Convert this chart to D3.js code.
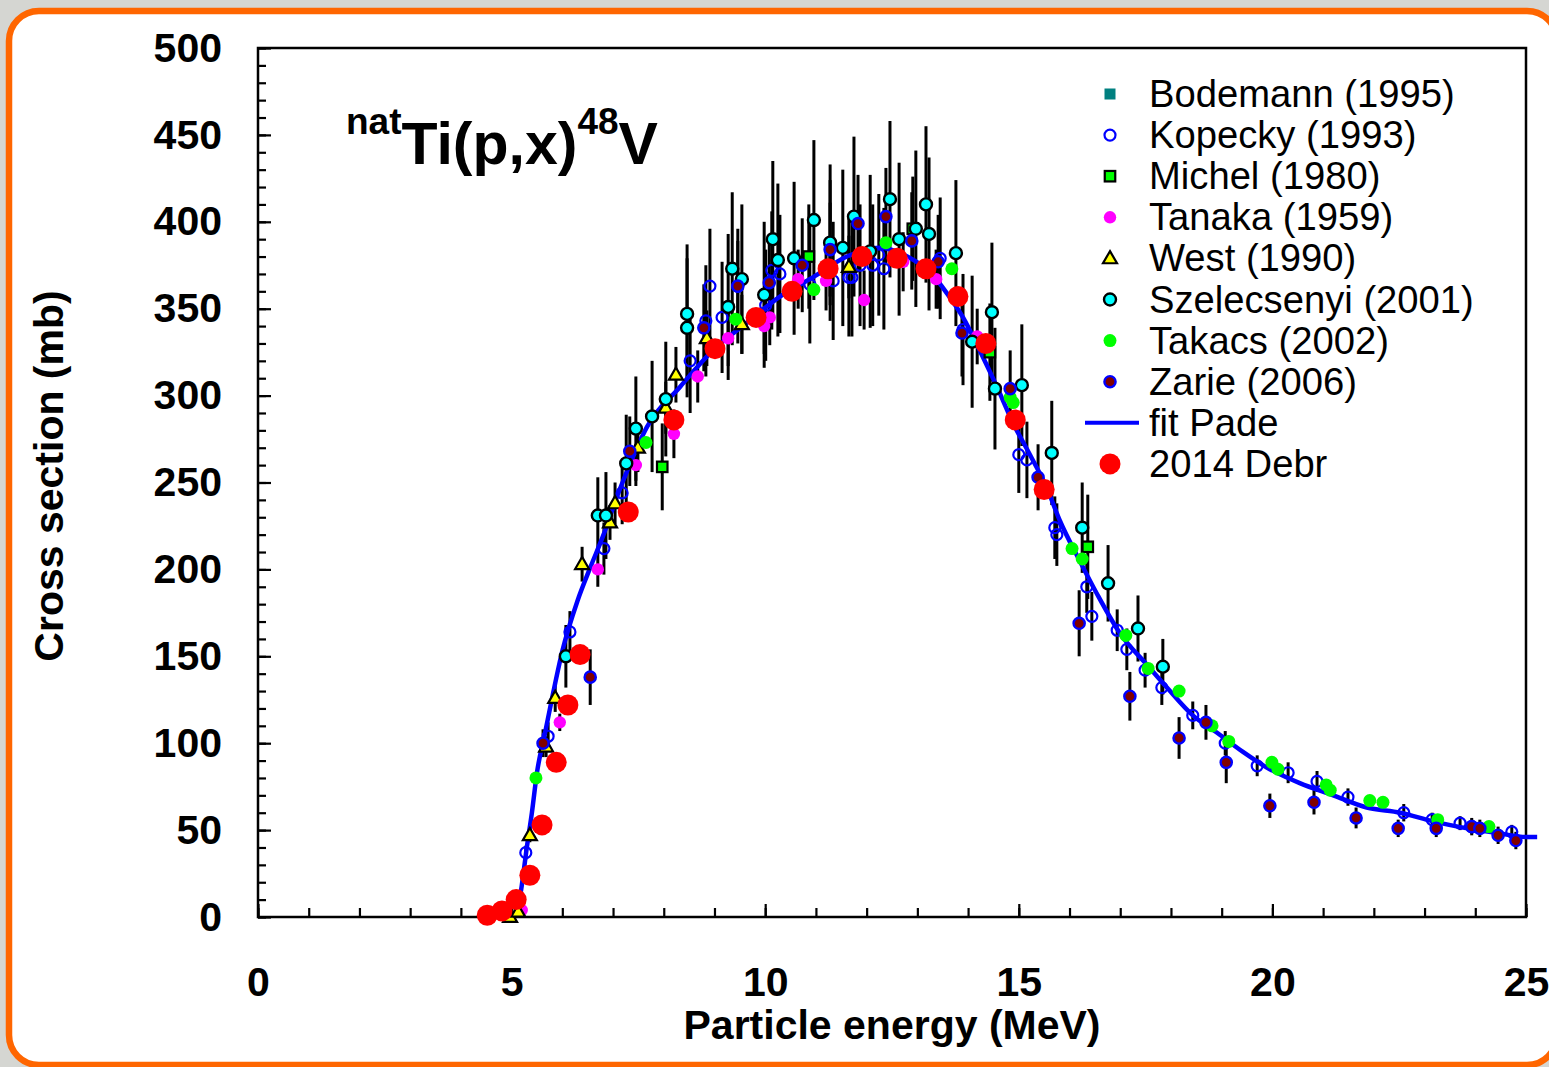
<!DOCTYPE html>
<html lang="en">
<head>
<meta charset="UTF-8">
<title>natTi(p,x)48V cross section</title>
<script src="https://d3js.org/d3.v7.min.js"></script>
<style>
  body { margin: 0; background: #d5d6d2; }
  svg { display: block; font-family: "Liberation Sans", Arial, sans-serif; }
</style>
</head>
<body>
<div id="chart"></div>
<script>
// tick values
const energyTicks = [0, 5, 10, 15, 20, 25];
const sigmaTicks = [0, 50, 100, 150, 200, 250, 300, 350, 400, 450, 500];

// each point: [energy MeV, cross section mb, error mb]
const bodemann = [];

const kopecky = [
  [5.28, 37, 4], [5.72, 104, 8], [6.15, 164, 12], [6.82, 212, 15], [7.18, 244, 18],
  [8.52, 320, 30], [8.83, 343, 32], [8.91, 363, 33], [9.15, 345, 32], [9.46, 363, 33],
  [10.01, 352, 32], [10.13, 372, 34], [10.29, 370, 34], [10.88, 364, 34], [11.28, 388, 36],
  [11.34, 366, 34], [11.65, 368, 34], [11.71, 368, 34], [11.87, 375, 35], [12.12, 375, 35],
  [12.24, 381, 35], [12.34, 373, 35], [13.45, 379, 35], [13.9, 338, 32], [15.0, 266, 22],
  [15.16, 263, 22], [15.71, 224, 18], [15.75, 220, 18], [16.34, 190, 15], [16.44, 173, 14],
  [16.94, 165, 12], [17.13, 154, 12], [17.49, 142, 10], [17.82, 132, 10], [18.43, 116, 8],
  [19.07, 100, 7], [19.7, 87, 6], [20.31, 83, 6], [20.88, 78, 6], [21.49, 69, 5],
  [22.59, 60, 5], [23.15, 56, 4], [23.7, 54, 4], [23.93, 52, 4], [24.72, 49, 4]
];

const michel = [
  [7.97, 259, 25], [10.86, 380, 30], [12.91, 396, 30], [14.43, 325, 28], [16.36, 213, 30]
];

const tanaka = [
  [5.2, 4, 0], [5.95, 112, 5], [6.7, 200, 10], [7.45, 260, 12], [8.2, 278, 14],
  [8.67, 311, 15], [9.27, 333, 16], [9.98, 340, 16], [10.09, 345, 16], [10.65, 367, 17],
  [11.2, 366, 17], [11.95, 355, 17], [12.72, 377, 17], [13.37, 367, 17], [14.18, 334, 16]
];

const west = [
  [4.97, 0, 0], [5.13, 3, 2], [5.36, 47, 4], [5.68, 98, 6], [5.86, 126, 8],
  [6.39, 203, 10], [6.94, 227, 10], [7.04, 238, 12], [7.49, 270, 14], [8.04, 293, 15],
  [8.24, 312, 16], [8.85, 333, 16], [9.54, 341, 17], [11.65, 374, 18]
];

const szelecsenyi = [
  [6.07, 150, 18], [6.7, 231, 22], [6.86, 231, 25], [7.26, 261, 28], [7.45, 281, 30],
  [7.77, 288, 32], [8.04, 298, 33], [8.46, 347, 40], [8.46, 339, 40], [9.27, 351, 42],
  [9.35, 373, 44], [9.54, 367, 43], [9.98, 358, 42], [10.15, 390, 45], [10.25, 378, 44],
  [10.57, 379, 44], [10.96, 401, 46], [11.28, 388, 45], [11.53, 385, 45], [11.75, 403, 46],
  [12.07, 383, 44], [12.46, 413, 45], [12.64, 390, 44], [12.97, 396, 45], [13.17, 410, 45],
  [13.23, 393, 44], [13.76, 382, 42], [14.08, 331, 38], [14.47, 348, 40], [14.53, 304, 35],
  [15.06, 306, 35], [15.65, 267, 30], [16.25, 224, 26], [16.76, 192, 22], [17.35, 166, 19],
  [17.84, 144, 16]
];

const takacs = [
  [5.48, 80, 0], [7.65, 273, 0], [9.42, 344, 0], [10.96, 361, 0], [12.38, 388, 0],
  [13.68, 373, 0], [14.83, 299, 0], [14.89, 296, 0], [16.05, 212, 0], [16.25, 206, 0],
  [17.11, 162, 0], [17.55, 143, 0], [18.16, 130, 0], [18.81, 110, 0], [19.14, 101, 0],
  [19.99, 89, 0], [20.11, 85, 0], [21.06, 76, 0], [21.14, 73, 0], [21.92, 67, 0],
  [22.18, 66, 0], [23.26, 56, 0], [24.27, 52, 0]
];

const zarie = [
  [5.62, 100, 8], [6.55, 138, 16], [7.33, 268, 20], [8.79, 339, 25], [9.46, 363, 26],
  [10.08, 365, 26], [10.73, 375, 27], [11.28, 384, 27], [11.83, 399, 28], [12.38, 403, 28],
  [12.89, 389, 28], [13.41, 377, 27], [13.88, 336, 25], [14.83, 304, 22], [15.38, 253, 19],
  [16.19, 169, 19], [17.19, 127, 14], [18.16, 103, 12], [18.69, 112, 10], [19.09, 89, 12],
  [19.95, 64, 7], [20.82, 66, 7], [21.65, 57, 6], [22.48, 51, 5], [23.23, 51, 5],
  [23.93, 52, 5], [24.09, 51, 5], [24.45, 47, 5], [24.8, 44, 5]
];

const debr2014 = [
  [4.52, 1], [4.81, 3.5], [5.09, 10], [5.36, 24], [5.6, 53], [5.88, 89], [6.11, 122],
  [6.35, 151], [7.3, 233], [8.2, 286], [9.01, 327], [9.82, 345], [10.53, 360], [11.24, 373],
  [11.91, 380], [12.6, 379], [13.17, 373], [13.8, 357], [14.35, 330], [14.93, 286], [15.5, 246]
];

// Pade fit curve
const fitPade = [
  [5.1, 0], [5.2, 18], [5.3, 40], [5.4, 60], [5.5, 83], [5.66, 106], [5.82, 129], [6.0, 153],
  [6.3, 182], [6.55, 201], [6.8, 219], [7.08, 242], [7.2, 251], [7.67, 282], [8.32, 305],
  [8.97, 326], [9.64, 342], [10.29, 357], [10.94, 368], [11.61, 380], [12.26, 385], [12.8, 380],
  [13.25, 371], [13.58, 359], [13.9, 345], [14.23, 326], [14.57, 305], [14.89, 284], [15.22, 266],
  [15.55, 247], [15.81, 228], [16.2, 205], [16.54, 186], [17.0, 163], [17.53, 145], [17.92, 132],
  [18.43, 116], [18.91, 106], [19.42, 95], [19.89, 86], [20.54, 77], [21.2, 70], [21.86, 63],
  [22.52, 60], [23.17, 55], [23.84, 51], [24.49, 48], [25.02, 46], [25.22, 46]
];

const W = 1549, H = 1067;
const plot = { left: 258, right: 1526, top: 48, bottom: 917 };

const svg = d3.select("#chart").append("svg")
  .attr("width", W).attr("height", H);

// slide background with orange rounded frame
svg.append("rect").attr("width", W).attr("height", H).attr("fill", "#d5d6d2");
svg.append("rect")
  .attr("x", 9).attr("y", 11).attr("width", 1548).attr("height", 1054)
  .attr("rx", 30).attr("ry", 30)
  .attr("fill", "#fff").attr("stroke", "#ff6600").attr("stroke-width", 6.5);

const x = d3.scaleLinear().domain([0, 25]).range([plot.left, plot.right]);
const y = d3.scaleLinear().domain([0, 500]).range([plot.bottom, plot.top]);

// minor ticks
svg.append("g")
  .attr("transform", `translate(${plot.left},0)`)
  .call(d3.axisLeft(y).tickValues(d3.range(0, 501, 10)).tickSize(-8).tickFormat(""))
  .call(g => g.select(".domain").remove())
  .selectAll("line").attr("stroke", "#000").attr("stroke-width", 2.2);
svg.append("g")
  .attr("transform", `translate(0,${plot.bottom})`)
  .call(d3.axisBottom(x).tickValues(d3.range(0, 26, 1)).tickSize(-9).tickFormat(""))
  .call(g => g.select(".domain").remove())
  .selectAll("line").attr("stroke", "#000").attr("stroke-width", 2.2);

// major ticks + labels
const yAxis = svg.append("g")
  .attr("transform", `translate(${plot.left},0)`)
  .call(d3.axisLeft(y).tickValues(sigmaTicks).tickSize(-13).tickPadding(36));
yAxis.select(".domain").remove();
yAxis.selectAll("line").attr("stroke", "#000").attr("stroke-width", 2.2);
yAxis.selectAll("text")
  .attr("fill", "#000").style("font-size", "41px").style("font-weight", "bold")
  .style("font-family", "'Liberation Sans', Arial, sans-serif");

const xAxis = svg.append("g")
  .attr("transform", `translate(0,${plot.bottom})`)
  .call(d3.axisBottom(x).tickValues(energyTicks).tickSize(-13).tickPadding(50));
xAxis.select(".domain").remove();
xAxis.selectAll("line").attr("stroke", "#000").attr("stroke-width", 2.2);
xAxis.selectAll("text")
  .attr("fill", "#000").style("font-size", "41px").style("font-weight", "bold")
  .style("font-family", "'Liberation Sans', Arial, sans-serif");

// plot frame
svg.append("rect")
  .attr("x", plot.left).attr("y", plot.top)
  .attr("width", plot.right - plot.left).attr("height", plot.bottom - plot.top)
  .attr("fill", "none").attr("stroke", "#000").attr("stroke-width", 2.5);

// axis titles
svg.append("text")
  .attr("x", (plot.left + plot.right) / 2).attr("y", 1039)
  .attr("text-anchor", "middle")
  .style("font-size", "41px").style("font-weight", "bold")
  .text("Particle energy (MeV)");
svg.append("text")
  .attr("transform", "translate(63,476) rotate(-90)")
  .attr("text-anchor", "middle")
  .style("font-size", "41px").style("font-weight", "bold")
  .text("Cross section (mb)");

// reaction label
const title = svg.append("text").attr("x", 346).attr("y", 164)
  .style("font-weight", "bold").style("font-size", "59px");
title.append("tspan").attr("dy", -30).style("font-size", "37px").text("nat");
title.append("tspan").attr("dy", 30).text("Ti(p,x)");
title.append("tspan").attr("dy", -30).style("font-size", "37px").text("48");
title.append("tspan").attr("dy", 30).text("V");

// error bars
const allErr = [kopecky, michel, tanaka, west, szelecsenyi, takacs, zarie]
  .flat().filter(d => d[2] > 0);
svg.append("g").selectAll("line").data(allErr).join("line")
  .attr("x1", d => x(d[0])).attr("x2", d => x(d[0]))
  .attr("y1", d => y(d[1] - d[2])).attr("y2", d => y(d[1] + d[2]))
  .attr("stroke", "#000").attr("stroke-width", 3);

// fit line
const line = d3.line().x(d => x(d[0])).y(d => y(d[1])).curve(d3.curveMonotoneX);
svg.append("path").datum(fitPade)
  .attr("d", line).attr("fill", "none")
  .attr("stroke", "#0000ff").attr("stroke-width", 4.5);

// symbol drawing helpers
const styles = {
  bodemann: { shape: "square", size: 11, fill: "#008080", stroke: "none", sw: 0 },
  kopecky: { shape: "circle", r: 5.5, fill: "none", stroke: "#0000ff", sw: 2.2 },
  michel: { shape: "square", size: 10.5, fill: "#00ff00", stroke: "#000", sw: 2.2 },
  tanaka: { shape: "circle", r: 6.2, fill: "#ff00ff", stroke: "none", sw: 0 },
  west: { shape: "triangle", size: 14, fill: "#ffff00", stroke: "#000", sw: 2.2 },
  szelecsenyi: { shape: "circle", r: 6, fill: "#00ffff", stroke: "#000", sw: 2.4 },
  takacs: { shape: "circle", r: 6.5, fill: "#00ff00", stroke: "none", sw: 0 },
  zarie: { shape: "circle", r: 5.6, fill: "#800000", stroke: "#0000ff", sw: 2.4 },
  debr: { shape: "circle", r: 10.5, fill: "#ff0000", stroke: "none", sw: 0 }
};

function drawMarks(g, data, st) {
  let sel;
  if (st.shape === "circle") {
    sel = g.selectAll("circle").data(data).join("circle")
      .attr("cx", d => d.px).attr("cy", d => d.py).attr("r", st.r);
  } else if (st.shape === "square") {
    sel = g.selectAll("rect").data(data).join("rect")
      .attr("x", d => d.px - st.size / 2).attr("y", d => d.py - st.size / 2)
      .attr("width", st.size).attr("height", st.size);
  } else {
    const s = st.size, h = s * 0.87;
    sel = g.selectAll("path").data(data).join("path")
      .attr("d", d => `M${d.px},${d.py - h * 0.6}L${d.px + s / 2},${d.py + h * 0.4}L${d.px - s / 2},${d.py + h * 0.4}Z`);
  }
  sel.attr("fill", st.fill).attr("stroke", st.stroke).attr("stroke-width", st.sw)
    .attr("stroke-linejoin", "miter");
}

const seriesOrder = [
  ["bodemann", bodemann], ["kopecky", kopecky], ["michel", michel], ["tanaka", tanaka],
  ["west", west], ["szelecsenyi", szelecsenyi], ["takacs", takacs], ["zarie", zarie],
  ["debr", debr2014]
];
seriesOrder.forEach(([key, arr]) => {
  const pts = arr.map(d => ({ px: x(d[0]), py: y(d[1]) }));
  drawMarks(svg.append("g"), pts, styles[key]);
});

// legend
const legendItems = [
  ["bodemann", "Bodemann (1995)"], ["kopecky", "Kopecky (1993)"], ["michel", "Michel (1980)"],
  ["tanaka", "Tanaka (1959)"], ["west", "West (1990)"], ["szelecsenyi", "Szelecsenyi (2001)"],
  ["takacs", "Takacs (2002)"], ["zarie", "Zarie (2006)"], ["fit", "fit Pade"], ["debr", "2014 Debr"]
];
const legend = svg.append("g");
legendItems.forEach(([key, label], i) => {
  const cy = 94 + i * 41.1;
  const g = legend.append("g");
  if (key === "fit") {
    g.append("line").attr("x1", 1085).attr("x2", 1139).attr("y1", cy).attr("y2", cy)
      .attr("stroke", "#0000ff").attr("stroke-width", 4);
  } else {
    drawMarks(g, [{ px: 1110, py: cy }], styles[key]);
  }
  g.append("text").attr("x", 1149).attr("y", cy + 13)
    .style("font-size", "38.2px").text(label);
});
</script>
</body>
</html>
